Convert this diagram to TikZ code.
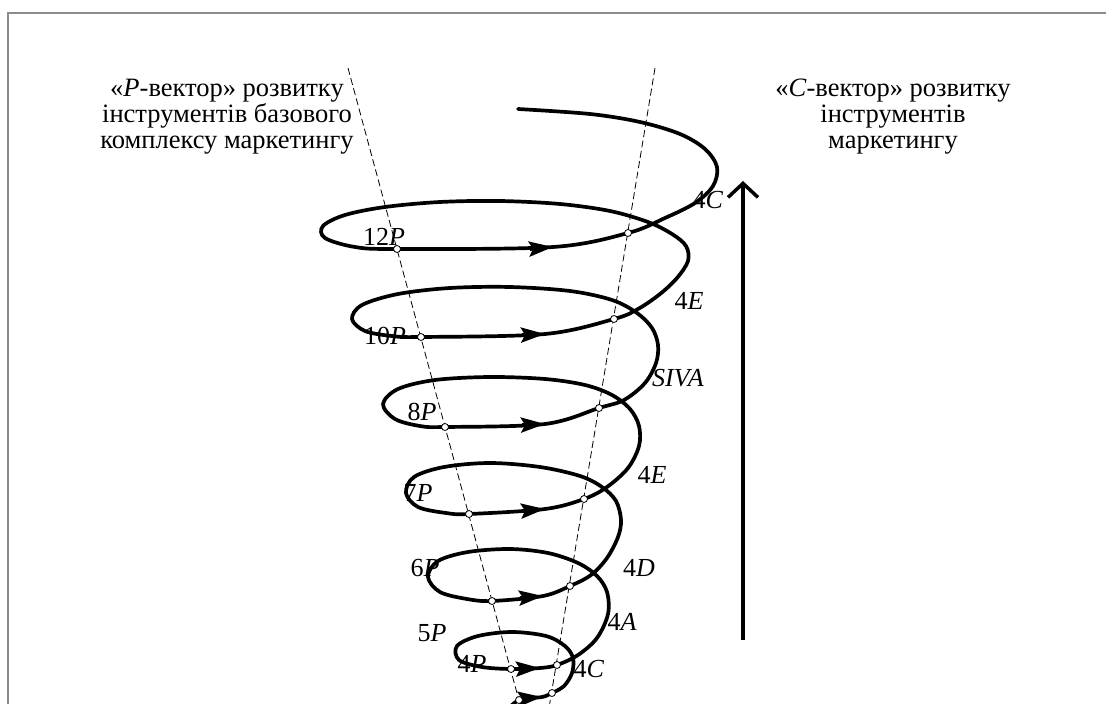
\documentclass[tikz,border=0pt]{standalone}
\usepackage{fontspec}
\setmainfont{Liberation Serif}
\usetikzlibrary{arrows.meta}

\tikzset{
  frameline/.style={draw=black!45, line width=1.6pt},
  axisline/.style={draw=black, line width=0.8pt, dash pattern=on 7pt off 3.5pt},
  spiral/.style={draw=black, line width=3.7pt, line cap=round, line join=round},
  flowtip/.style={draw=black, line width=3.7pt, -{Stealth[length=24pt, width=15pt, inset=4pt]}},
  knot/.style={circle, draw=black, fill=white, line width=0.8pt, inner sep=0pt, minimum size=7pt},
  tag/.style={inner sep=0pt, font=\fontsize{26}{28}\selectfont},
  caption/.style={align=center, inner sep=0pt, font=\fontsize{26.5}{26}\selectfont},
  growth/.style={draw=black, line width=4pt, -{Straight Barb[length=14pt, width=30pt, line width=3.5pt]}}
}

\begin{document}
\begin{tikzpicture}[x=1pt, y=-1pt]
\useasboundingbox (0,0) rectangle (1106,704);
\begin{scope}
\clip (0,0) rectangle (1106,704);

% frame
\draw[frameline] (8,704) -- (8,13) -- (1106,13);

% the two guide axes of the cone
\coordinate (ptop) at (348,68);
\coordinate (pbot) at (521,708);
\coordinate (ctop) at (655,68);
\coordinate (cbot) at (549,708);
\draw[axisline] (ptop) -- (pbot);
\draw[axisline] (ctop) -- (cbot);

% the helix, bottom to top
\draw[spiral] plot[smooth, tension=0.55] coordinates {
 (503,714) (519,700) (542,697) (552,693) (564,686) (572,673) (573,658) (565,646) (546,636) (512,632) (478,636) (457,646) (459,660) (482,667) (511,669) (540,668) (557,665)
 (578,655) (597,638) (608,614) (607,592) (597,576) (578,563) (548,553) (510,549) (468,552) (438,561) (428,577) (440,592) (467,599) (492,601) (543,596) (570,586)
 (591,575) (607,558) (618,537) (621,520) (616,501) (602,487) (580,476) (540,467) (490,463) (444,467) (414,477) (406,493) (418,507) (446,513) (469,514) (545,509) (584,499)
 (607,487) (628,468) (639,446) (639,426) (630,409) (612,395) (585,385) (545,379) (490,377) (435,380) (398,389) (383,404) (395,419) (420,426) (445,427) (545,424) (599,408)
 (624,400) (645,383) (656,363) (658,345) (652,328) (637,313) (612,300) (570,291) (510,287) (450,288) (398,294) (362,305) (352,319) (365,331) (392,336) (421,337) (545,334) (614,319)
 (638,309) (660,294) (677,278) (688,261) (686,246) (672,234) (648,222) (610,211) (560,204) (500,201) (440,202) (385,207) (345,215) (323,226) (325,238) (355,247) (397,249) (553,247) (628,233)
 (665,218) (695,203) (713,186) (717,167) (705,149) (680,134) (640,122) (590,114) (518,109)
};

% direction marks on the front strands
\draw[flowtip] (520,699) -- (542,697);
\draw[flowtip] (518,669) -- (540,668);
\draw[flowtip] (520,598) -- (543,596);
\draw[flowtip] (522,511) -- (545,509);
\draw[flowtip] (522,425) -- (545,424);
\draw[flowtip] (522,335) -- (545,334);
\draw[flowtip] (530,249) -- (553,247);

% crossing points on the axes
\node[knot] (l0) at (519,700) {};
\node[knot] (l1) at (511,669) {};
\node[knot] (l2) at (492,601) {};
\node[knot] (l3) at (469,514) {};
\node[knot] (l4) at (445,427) {};
\node[knot] (l5) at (421,337) {};
\node[knot] (l6) at (397,249) {};
\node[knot] (r0) at (552,693) {};
\node[knot] (r1) at (557,665) {};
\node[knot] (r2) at (570,586) {};
\node[knot] (r3) at (584,499) {};
\node[knot] (r4) at (599,408) {};
\node[knot] (r5) at (614,319) {};
\node[knot] (r6) at (628,233) {};

% P-side labels
\node[tag] (p12) at (384,237) {12\textit{P}};
\node[tag] (p10) at (385,336) {10\textit{P}};
\node[tag] (p8) at (422,412) {8\textit{P}};
\node[tag] (p7) at (418,493) {7\textit{P}};
\node[tag] (p6) at (425,568) {6\textit{P}};
\node[tag] (p5) at (432,633) {5\textit{P}};
\node[tag] (p4) at (472,664) {4\textit{P}};

% C-side labels
\node[tag] (c4top) at (708,200) {4\textit{C}};
\node[tag] (e4top) at (689,301) {4\textit{E}};
\node[tag] (siva) at (678,378) {\textit{SIVA}};
\node[tag] (e4low) at (652,475) {4\textit{E}};
\node[tag] (d4) at (639,568) {4\textit{D}};
\node[tag] (a4) at (622,622) {4\textit{A}};
\node[tag] (c4low) at (589,669) {4\textit{C}};

% captions
\node[caption, anchor=north] (pvec) at (227,79)
  {«\textit{P}-вектор» розвитку\\інструментів базового\\комплексу маркетингу};
\node[caption, anchor=north] (cvec) at (893,79)
  {«\textit{C}-вектор» розвитку\\інструментів\\маркетингу};

% growth direction
\coordinate (gb) at (743,640);
\coordinate (gt) at (743,181);
\draw[growth] (gb) -- (gt);
\end{scope}
\end{tikzpicture}
\end{document}
